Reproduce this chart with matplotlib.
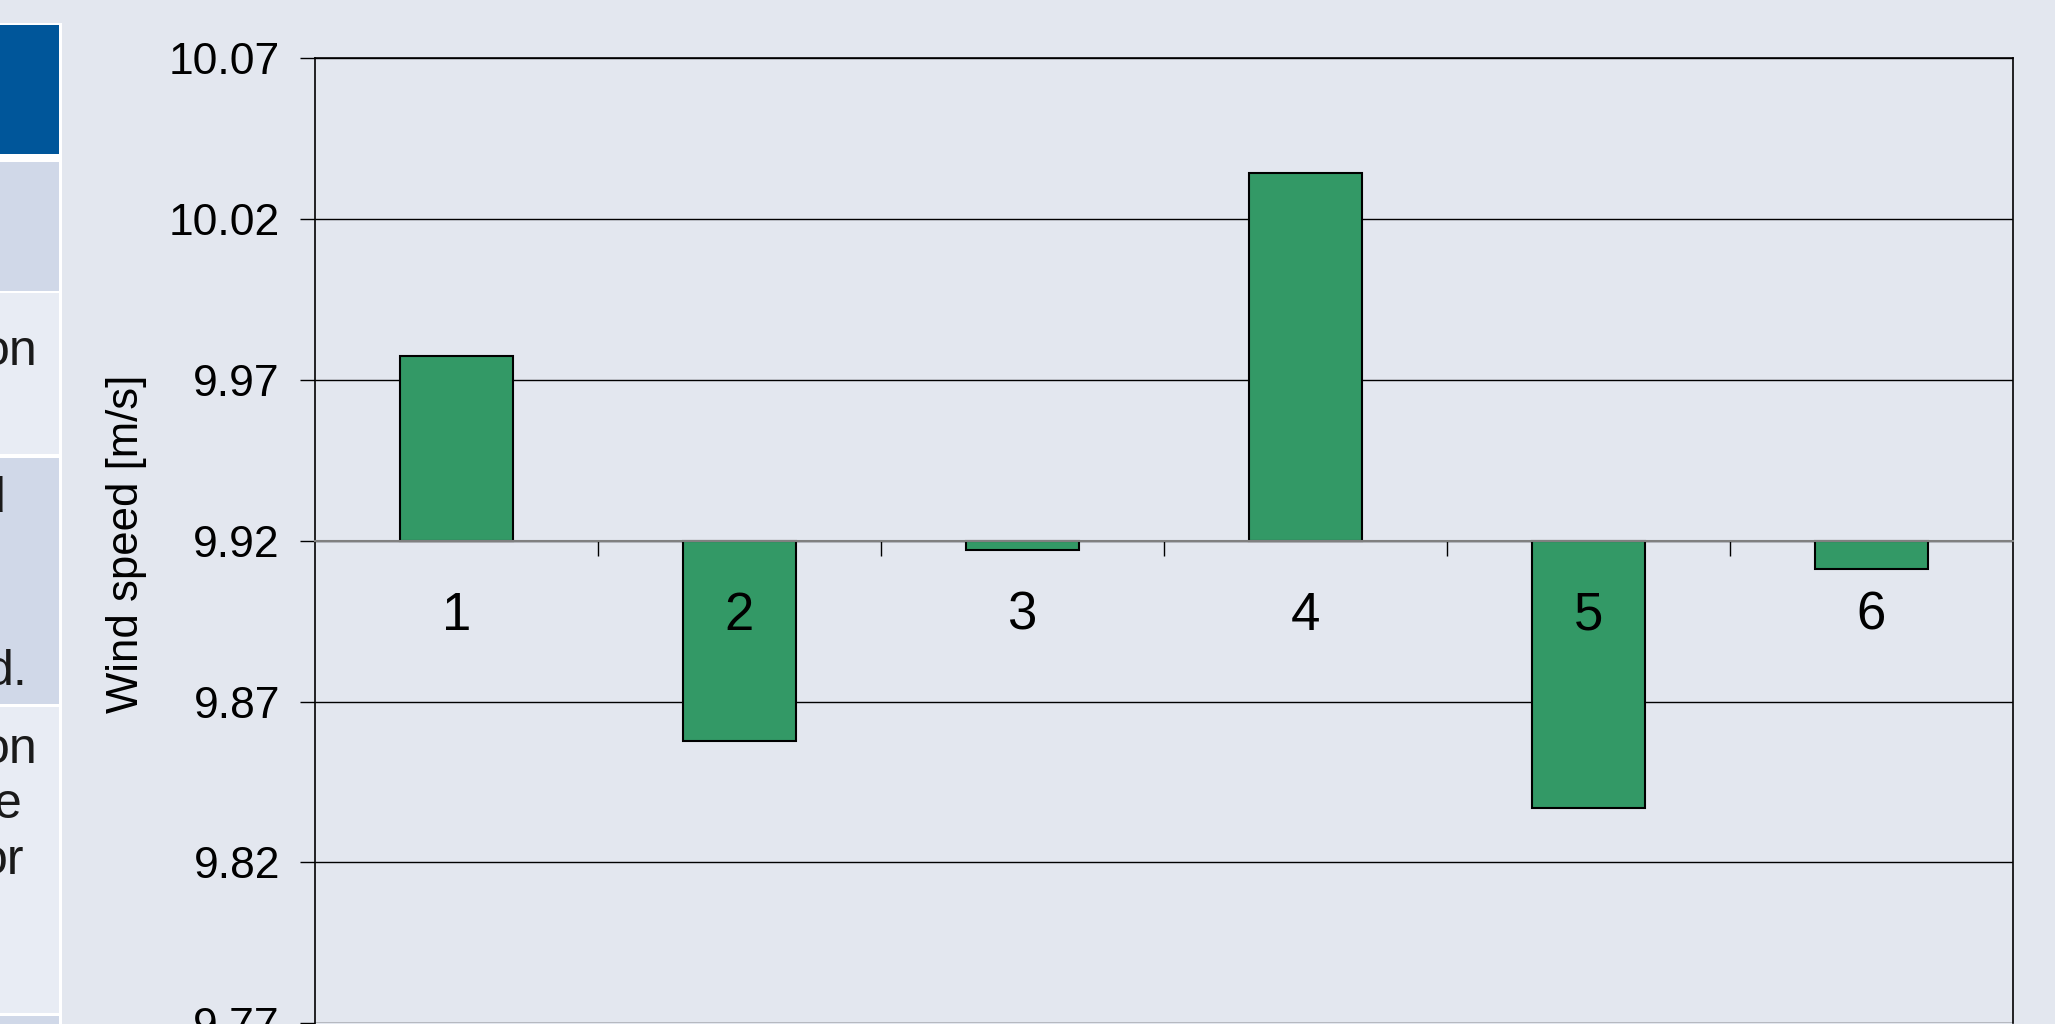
import numpy as np
import matplotlib
matplotlib.use("Agg")
import matplotlib.pyplot as plt
from matplotlib.patches import Rectangle

plt.rcParams['font.family'] = ['Liberation Sans', 'DejaVu Sans']

# Data
categories = ["1", "2", "3", "4", "5", "6"]
wind_speed = [9.9775, 9.8578, 9.9171, 10.0342, 9.8368, 9.9112]
baseline = 9.92
ytick_values = [9.77, 9.82, 9.87, 9.92, 9.97, 10.02, 10.07]
ytick_labels = ["9.77", "9.82", "9.87", "9.92", "9.97", "10.02", "10.07"]

# partial table on the left (cut off in the screenshot)
table_rows = [(25, 154, "#00569A"), (162, 291, "#D0D8E8"), (293, 454, "#E8ECF4"),
              (458, 704, "#D0D8E8"), (707, 1013, "#E8ECF4"), (1016, 1030, "#D0D8E8")]
table_text = [("on", 38, 365), ("d", 6, 512), ("d.", 28, 685),
              ("on", 38, 763), ("e", 22, 818), ("or", 24, 874)]

W, H = 2055, 1024
bg = "#E3E7EF"

fig = plt.figure(figsize=(W / 100, H / 100), dpi=100, facecolor=bg)


def fy(px):
    return 1 - px / H


# table
fig.add_artist(Rectangle((0, 0), 62 / W, fy(22.7), transform=fig.transFigure,
                         facecolor="white", edgecolor="none", zorder=0))
for top, bot, col in table_rows:
    fig.add_artist(Rectangle((0, fy(bot)), 59 / W, fy(top) - fy(bot),
                             transform=fig.transFigure, facecolor=col,
                             edgecolor="none", zorder=1))
for txt, xr, yb in table_text:
    fig.text(xr / W, fy(yb), txt, ha="right", va="baseline", fontsize=36,
             color="#1a1a1a", zorder=2)

# chart
ax = fig.add_axes([314.7 / W, fy(1023.1), (2012.7 - 314.7) / W, (1023.1 - 58.3) / H])
ax.set_facecolor(bg)

x = np.arange(len(categories))
heights = [v - baseline for v in wind_speed]
ax.bar(x, heights, bottom=baseline, width=0.4, color="#339966",
       edgecolor="black", linewidth=1.5, zorder=1)

ax.set_xlim(-0.5, len(categories) - 0.5)
ax.set_ylim(ytick_values[0], ytick_values[-1])

# gridlines behind bars
ax.hlines(ytick_values, -0.5, len(categories) - 0.5, colors="black",
          linewidth=1.0, zorder=0.5)

ax.set_yticks(ytick_values)
ax.set_yticklabels(ytick_labels)
ax.tick_params(axis="y", labelsize=32, length=11, width=1, pad=14, color="black")

ax.set_xticks(x)
ax.set_xticklabels(categories)
ax.set_xticks(x[:-1] + 0.5, minor=True)
ax.tick_params(axis="x", which="major", length=0, labelsize=38, pad=36)
ax.tick_params(axis="x", which="minor", length=11, width=1, color="black", direction="out")

ax.spines["bottom"].set_position(("data", baseline))
ax.spines["bottom"].set_color("#808080")
ax.spines["bottom"].set_linewidth(1.5)
for s in ["left", "right", "top"]:
    ax.spines[s].set_color("black")
    ax.spines[s].set_linewidth(1.2)

ax.set_ylabel("Wind speed [m/s]", fontsize=31.5)
ax.yaxis.set_label_coords(-0.099, 0.497)

fig.savefig("out.png", dpi=100, facecolor=bg)
